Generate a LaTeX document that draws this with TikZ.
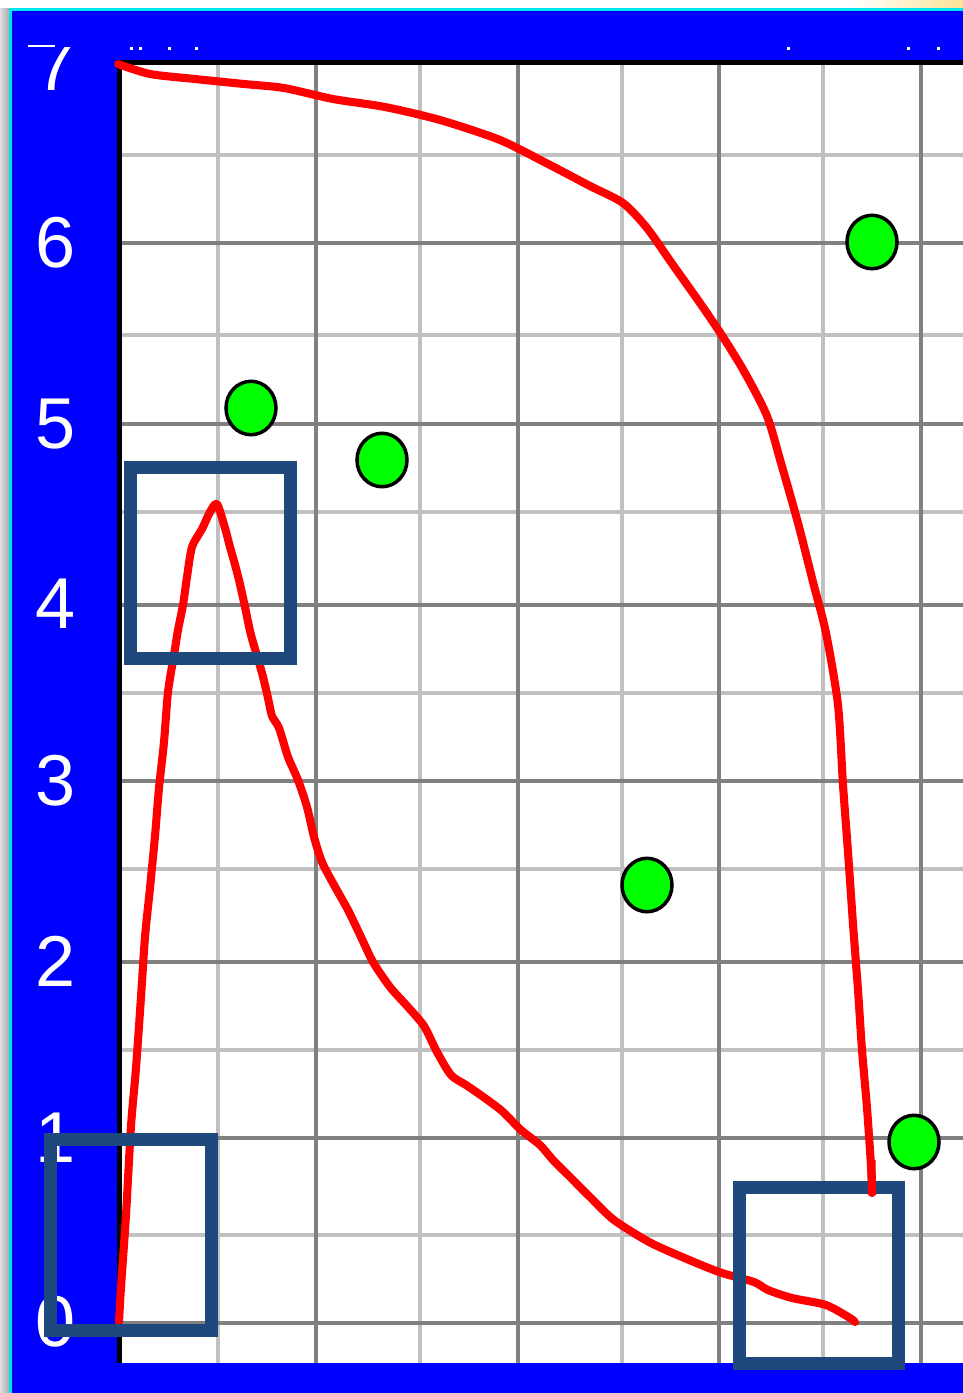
\documentclass[tikz,border=0pt]{standalone}
\usepackage{fontspec}
\setmainfont{Liberation Sans}
\usetikzlibrary{shapes.geometric}
\definecolor{scrblue}{RGB}{0,0,255}
\definecolor{gridlight}{RGB}{192,192,192}
\definecolor{griddark}{RGB}{128,128,128}
\definecolor{hlblue}{RGB}{31,73,125}
\definecolor{dotgreen}{RGB}{0,255,0}
\definecolor{cyanline}{RGB}{0,230,240}
\definecolor{paleyellow}{RGB}{250,228,150}
\begin{document}
\begin{tikzpicture}[x=0.02cm,y=-0.02cm,
  gl/.style={draw=gridlight,line width=2.6pt},
  gd/.style={draw=griddark,line width=2.6pt},
  curve/.style={draw=red,line width=4.6pt,line join=round,line cap=round},
  dot/.style={ellipse,fill=dotgreen,draw=black,line width=2pt,minimum width=1.0cm,minimum height=1.07cm,inner sep=0pt},
  hl/.style={draw=hlblue,line width=7.4pt},
  ylab/.style={text=white,font=\fontsize{41}{41}\selectfont,inner sep=0pt}]
\useasboundingbox (0,0) rectangle (963,1393);
% frame
\fill[scrblue] (0,0) rectangle (963,1393);
\fill[white] (0,0) rectangle (963,8);
\shade[left color=white,right color=paleyellow] (850,0) rectangle (963,8);
\shade[left color=gray!25,right color=gray!65] (0,8) rectangle (9,1393);
\fill[cyanline] (9,8) rectangle (963,11);
\fill[cyanline] (9,8) rectangle (12,1393);
% plot area
\fill[white] (120,62) rectangle (963,1363);
\foreach \x in {218,420,622,823} \draw[gl] (\x,64) -- (\x,1363);
\foreach \y in {155,335,512,693,869,1050,1235} \draw[gl] (122,\y) -- (963,\y);
\foreach \x in {316,518,719,921} \draw[gd] (\x,64) -- (\x,1363);
\foreach \y in {243,424,605,781,962,1138,1323} \draw[gd] (122,\y) -- (963,\y);
\fill[black] (117,60) rectangle (122,1363);
\fill[black] (117,60) rectangle (963,65);
% tiny remnants of clipped top labels
\foreach \x in {130,139,168,195,787,907,937} \fill[white] (\x,47) rectangle ++(3,3);
\fill[white] (28,45) rectangle (55,47);
% axis labels
\begin{scope}
  \clip (0,47) rectangle (117,120);
  \node[ylab] (l7) at (56,66) {7};
\end{scope}
\node[ylab] (l6) at (56,243) {6};
\node[ylab] (l5) at (56,424) {5};
\node[ylab] (l4) at (56,604) {4};
\node[ylab] (l3) at (56,781) {3};
\node[ylab] (l2) at (56,961) {2};
\node[ylab] (l1) at (56,1138) {1};
\node[ylab] (l0) at (56,1322) {0};
% red curves
\draw[curve] plot[smooth,tension=0.45] coordinates {(118,64) (150,74) (195,79) (244,84) (284,88) (333,99) (385,107) (440,120) (500,140) (550,165) (590,186) (623,203) (647,228) (673,265) (700,303) (723,337) (745,373) (767,416) (781,463) (798,523) (813,582) (826,633) (838,705) (843,785) (848,852) (853,924) (858,990) (862,1050) (867,1108) (871,1166) (872,1193)};
\draw[curve] plot[smooth,tension=0.45] coordinates {(119,1322) (121,1287) (126,1215) (131,1126) (136,1068) (141,997) (145,937) (150,888) (155,836) (159,788) (164,742) (168,692) (174,655) (178,630) (183,605) (187,577) (192,547) (202,529) (210,512) (217,504) (225,528) (230,547) (234,561) (239,580) (245,607) (251,635) (262,673) (268,698) (272,716) (279,728) (288,757) (298,780) (307,807) (314,837) (322,862) (334,885) (348,910) (361,937) (373,962) (390,987) (408,1007) (424,1026) (437,1052) (451,1075) (466,1085) (482,1096) (502,1111) (521,1130) (540,1145) (553,1160) (570,1177) (590,1197) (614,1220) (651,1243) (694,1262) (722,1273) (754,1282) (768,1290) (792,1298) (826,1305) (850,1318) (855,1322)};
% green points
\node[dot] (p1) at (251,408) {};
\node[dot] (p2) at (382,460) {};
\node[dot] (p3) at (647,885) {};
\node[dot] (p4) at (872,242) {};
\node[dot] (p5) at (914,1142) {};
% highlight boxes
\draw[hl] (130.5,467) rectangle (290.5,658);
\draw[hl] (50.5,1139) rectangle (211,1330.5);
\draw[hl] (739,1187) rectangle (898.5,1363);
\draw[curve,line cap=butt] (871.5,1160) -- (872,1195);
\end{tikzpicture}
\end{document}
